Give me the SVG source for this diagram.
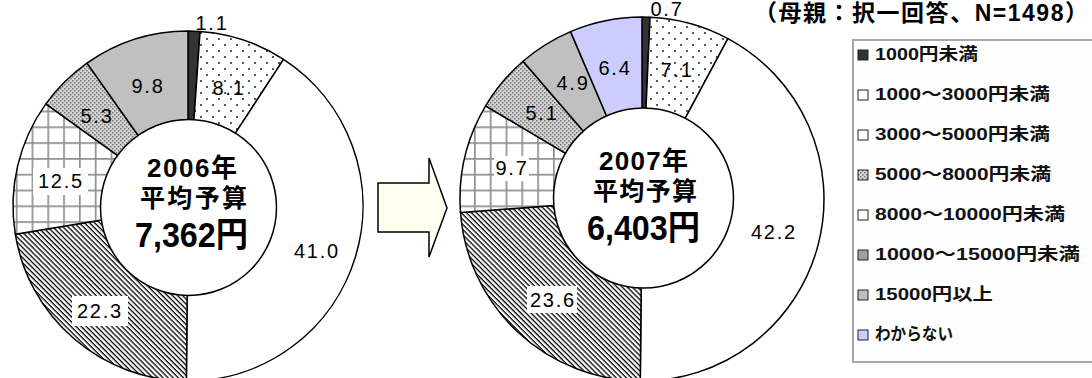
<svg xmlns="http://www.w3.org/2000/svg" width="1092" height="378" viewBox="0 0 1092 378">
<style>
.sl{stroke:#000;stroke-width:1.5;stroke-linejoin:round}
.hole{fill:#fff;stroke:#000;stroke-width:1.5}
.lbl{font-family:"Liberation Sans",Arial,sans-serif;font-size:20px;fill:#000;text-anchor:middle;letter-spacing:1.8px}
.lbg{fill:#fff}
.ctr{font-family:"Liberation Sans","Noto Sans CJK JP",sans-serif;font-weight:bold;fill:#000}
.leg{font-family:"Liberation Sans","Noto Sans CJK JP",sans-serif;font-weight:bold;font-size:17px;fill:#111}
.key{stroke:#222;stroke-width:1}
.ttl{font-family:"Liberation Sans","Noto Sans CJK JP",sans-serif;font-weight:bold;font-size:23px;fill:#000}
</style>
<defs>
<pattern id="pDots" width="12" height="12" patternUnits="userSpaceOnUse"><rect width="12" height="12" fill="#fff"/><circle cx="3" cy="3" r="1" fill="#222"/><circle cx="9" cy="9" r="1" fill="#222"/></pattern>
<pattern id="pHatch" width="3.6" height="3.6" patternUnits="userSpaceOnUse" patternTransform="rotate(45)"><rect width="3.6" height="3.6" fill="#fff"/><rect width="3.6" height="1.3" fill="#000"/></pattern>
<pattern id="pGrid" width="15.8" height="15.8" patternUnits="userSpaceOnUse"><rect width="15.8" height="15.8" fill="#fff"/><path d="M0 0.8H15.8M0.8 0V15.8" stroke="#909090" stroke-width="1.8"/></pattern>
<pattern id="pFine" width="4" height="4" patternUnits="userSpaceOnUse"><rect width="4" height="4" fill="#d4d4d4"/><rect width="1.5" height="1.5" fill="#777"/><rect x="2" y="2" width="1.5" height="1.5" fill="#777"/></pattern>
</defs>
<rect width="1092" height="378" fill="#fff"/>

<g id="title"><text class="ttl" x="754" y="21" textLength="334" lengthAdjust="spacing">（母親：択一回答、N=1498）</text></g>

<g id="chart2006">
<g id="c06-s1"><path class="sl" fill="#333" d="M188,31 A175,175 0 0 1 200.07,31.42 L193.93,120.2 A86,86 0 0 0 188,120 Z"/></g>
<g id="c06-s2"><path class="sl" fill="url(#pDots)" d="M200.07,31.42 A175,175 0 0 1 283.53,59.38 L234.95,133.95 A86,86 0 0 0 193.93,120.2 Z"/></g>
<g id="c06-s3"><path class="sl" fill="#fff" d="M283.53,59.38 A175,175 0 0 1 186.35,380.99 L187.19,292 A86,86 0 0 0 234.95,133.95 Z"/></g>
<g id="c06-s4"><path class="sl" fill="url(#pHatch)" d="M186.35,380.99 A175,175 0 0 1 15.28,234.16 L103.12,219.84 A86,86 0 0 0 187.19,292 Z"/></g>
<g id="c06-s5"><path class="sl" fill="url(#pGrid)" d="M15.28,234.16 A175,175 0 0 1 45.86,103.9 L118.15,155.83 A86,86 0 0 0 103.12,219.84 Z"/></g>
<g id="c06-s6"><path class="sl" fill="url(#pFine)" d="M45.86,103.9 A175,175 0 0 1 87.02,63.07 L138.38,135.76 A86,86 0 0 0 118.15,155.83 Z"/></g>
<g id="c06-s7"><path class="sl" fill="#c0c0c0" d="M87.02,63.07 A175,175 0 0 1 188,31 L188,120 A86,86 0 0 0 138.38,135.76 Z"/></g>
<g id="c06-center">
<circle class="hole" cx="188.5" cy="207.5" r="88"/>
<text class="ctr" x="147" y="177" font-size="26" textLength="90" lengthAdjust="spacing">2006年</text>
<text class="ctr" x="140" y="207" font-size="25" textLength="107" lengthAdjust="spacing">平均予算</text>
<text class="ctr" x="135" y="247" font-size="35" textLength="113" lengthAdjust="spacingAndGlyphs">7,362円</text>
</g>
<g id="c06-labels">
<text class="lbl" x="212" y="30">1.1</text>
<text class="lbl" x="229" y="95">8.1</text>
<text class="lbl" x="317" y="258">41.0</text>
<rect class="lbg" x="72" y="296" width="56" height="30"/>
<text class="lbl" x="100" y="318">22.3</text>
<rect class="lbg" x="33" y="168" width="55" height="27"/>
<text class="lbl" x="61" y="188">12.5</text>
<text class="lbl" x="97" y="123">5.3</text>
<text class="lbl" x="148" y="93">9.8</text>
</g>
</g>

<g id="connectors">
<polygon id="arrow" points="378,183 429,183 429,158 447,208 429,257 429,232 378,232" fill="#fffff0" stroke="#000" stroke-width="1.5" stroke-linejoin="miter"/>
</g>

<g id="chart2007">
<g id="c07-s1"><path class="sl" fill="#333" d="M642,17 A182,182 0 0 1 650.03,17.18 L645.88,111.09 A88,88 0 0 0 642,111 Z"/></g>
<g id="c07-s2"><path class="sl" fill="url(#pDots)" d="M650.03,17.18 A182,182 0 0 1 727.9,38.55 L683.54,121.42 A88,88 0 0 0 645.88,111.09 Z"/></g>
<g id="c07-s3"><path class="sl" fill="#fff" d="M727.9,38.55 A182,182 0 0 1 640.28,380.99 L641.17,287 A88,88 0 0 0 683.54,121.42 Z"/></g>
<g id="c07-s4"><path class="sl" fill="url(#pHatch)" d="M640.28,380.99 A182,182 0 0 1 460.5,212.47 L554.24,205.51 A88,88 0 0 0 641.17,287 Z"/></g>
<g id="c07-s5"><path class="sl" fill="url(#pGrid)" d="M460.5,212.47 A182,182 0 0 1 485.64,105.86 L566.4,153.96 A88,88 0 0 0 554.24,205.51 Z"/></g>
<g id="c07-s6"><path class="sl" fill="url(#pFine)" d="M485.64,105.86 A182,182 0 0 1 523.07,61.23 L584.5,132.39 A88,88 0 0 0 566.4,153.96 Z"/></g>
<g id="c07-s7"><path class="sl" fill="#c0c0c0" d="M523.07,61.23 A182,182 0 0 1 570.57,31.6 L607.46,118.06 A88,88 0 0 0 584.5,132.39 Z"/></g>
<g id="c07-s8"><path class="sl" fill="#ccccff" d="M570.57,31.6 A182,182 0 0 1 642,17 L642,111 A88,88 0 0 0 607.46,118.06 Z"/></g>
<g id="c07-center">
<circle class="hole" cx="643.5" cy="198" r="90"/>
<text class="ctr" x="599" y="170" font-size="26" textLength="89" lengthAdjust="spacing">2007年</text>
<text class="ctr" x="593" y="200" font-size="25" textLength="104" lengthAdjust="spacing">平均予算</text>
<text class="ctr" x="587" y="240" font-size="35" textLength="113" lengthAdjust="spacingAndGlyphs">6,403円</text>
</g>
<g id="c07-labels">
<text class="lbl" x="667" y="16">0.7</text>
<text class="lbl" x="677" y="77">7.1</text>
<text class="lbl" x="774" y="239">42.2</text>
<rect class="lbg" x="527" y="286" width="50" height="27"/>
<text class="lbl" x="553" y="307">23.6</text>
<rect class="lbg" x="494" y="156" width="35" height="25"/>
<text class="lbl" x="512" y="175">9.7</text>
<text class="lbl" x="542" y="120">5.1</text>
<text class="lbl" x="573" y="90">4.9</text>
<text class="lbl" x="615" y="75">6.4</text>
</g>
</g>

<g id="legend">
<rect x="853" y="40" width="260" height="322" fill="#fefefe" stroke="#a8a8a8" stroke-width="2"/>
<g id="leg1"><rect class="key" x="858" y="50" width="10" height="10" fill="#333"/><text class="leg" x="875" y="60" textLength="103" lengthAdjust="spacingAndGlyphs">1000円未満</text></g>
<g id="leg2"><rect class="key" x="858" y="90" width="10" height="10" fill="#fff"/><text class="leg" x="875" y="100" textLength="175" lengthAdjust="spacingAndGlyphs">1000～3000円未満</text></g>
<g id="leg3"><rect class="key" x="858" y="130" width="10" height="10" fill="#fff"/><text class="leg" x="875" y="140" textLength="175" lengthAdjust="spacingAndGlyphs">3000～5000円未満</text></g>
<g id="leg4"><rect class="key" x="858" y="170" width="10" height="10" fill="url(#pFine)"/><text class="leg" x="875" y="180" textLength="176" lengthAdjust="spacingAndGlyphs">5000～8000円未満</text></g>
<g id="leg5"><rect class="key" x="858" y="210" width="10" height="10" fill="#fff"/><text class="leg" x="875" y="220" textLength="190" lengthAdjust="spacingAndGlyphs">8000～10000円未満</text></g>
<g id="leg6"><rect class="key" x="858" y="250" width="10" height="10" fill="#a0a0a0"/><text class="leg" x="875" y="260" textLength="205" lengthAdjust="spacingAndGlyphs">10000～15000円未満</text></g>
<g id="leg7"><rect class="key" x="858" y="290" width="10" height="10" fill="#bdbdbd"/><text class="leg" x="875" y="300" textLength="118" lengthAdjust="spacingAndGlyphs">15000円以上</text></g>
<g id="leg8"><rect class="key" x="858" y="330" width="10" height="10" fill="#ccccff"/><text class="leg" x="875" y="340" textLength="78" lengthAdjust="spacingAndGlyphs">わからない</text></g>
</g>
</svg>
